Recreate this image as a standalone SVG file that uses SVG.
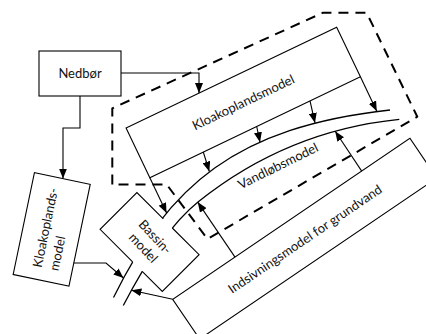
<svg xmlns="http://www.w3.org/2000/svg" width="426" height="334" viewBox="0 0 426 334">
  <style>
    .box { fill: #fff; stroke: #000; stroke-width: 1.1; }
    .ln { fill: none; stroke: #000; stroke-width: 1.1; }
    .arr { fill: none; stroke: #000; stroke-width: 1.1; marker-end: url(#ah); }
    .river { fill: none; stroke: #000; stroke-width: 1.3; }
    .dash { fill: none; stroke: #000; stroke-width: 2; stroke-dasharray: 10 7; stroke-linejoin: round; }
    text { font-family: Lato, "Liberation Sans", sans-serif; font-size: 13px; fill: #111; }
    .mid { text-anchor: middle; }
  </style>
  <defs>
    <marker id="ah" viewBox="0 0 10 8" refX="10" refY="4" markerWidth="10" markerHeight="8" markerUnits="userSpaceOnUse" orient="auto">
      <path d="M0,0 L10,4 L0,8 z" fill="#000"/>
    </marker>
  </defs>
  <rect width="426" height="334" fill="#fff"/>

  <!-- precipitation -->
  <g id="nedbor">
    <rect class="box" x="39" y="51" width="82" height="45"/>
    <text class="mid" x="80" y="77.5">Nedbør</text>
  </g>

  <!-- catchment model (large, rotated) -->
  <g id="kloakoplandsmodel">
    <rect class="box" x="-116.75" y="-27.5" width="233.5" height="55" transform="translate(243.25 102.4) rotate(-25.6)"/>
    <text class="mid" x="0" y="4.5" transform="translate(243.25 102.4) rotate(-25.6)">Kloakoplandsmodel</text>
  </g>

  <!-- catchment model (small, left) -->
  <g id="kloakoplandsmodel-left">
    <rect class="box" x="-28.5" y="-52" width="57" height="104" transform="translate(51.7 229.4) rotate(11.8)"/>
    <g transform="translate(51.7 229.4) rotate(-78.2)">
      <text x="-40" y="-2">Kloakoplands-</text>
      <text x="-40" y="15">model</text>
    </g>
  </g>

  <!-- infiltration model for groundwater -->
  <g id="indsivningsmodel">
    <g transform="translate(172.7 299.3) rotate(-34.16)">
      <rect class="box" x="0" y="0" width="286.7" height="48"/>
      <text class="mid" x="143.35" y="29">Indsivningsmodel for grundvand</text>
    </g>
  </g>

  <!-- river channel: two banks -->
  <g id="vandlobsmodel">
    <path class="river" d="M113.5,297.5 C168.75,185.4 235.9,127 390,110"/>
    <path class="river" d="M123.3,305.5 C149,255.8 174,221.2 198.3,201.7 C257.5,154.3 324.5,126.8 399.3,119.3"/>
    <text class="mid" x="0" y="0" transform="translate(280 170) rotate(-26.3)">Vandløbsmodel</text>
  </g>

  <!-- basin model, the channel passes through it -->
  <g id="bassin-model">
    <rect x="-44" y="-26" width="88" height="52" fill="#fff" transform="translate(149.6 242) rotate(45)"/>
    <path class="ln" d="M132.6,261.8 L100.1,229.3 L136.9,192.5 L163.3,218.9"/>
    <path class="ln" d="M172.3,228 L199.1,254.7 L162.3,291.5 L142.2,271.4"/>
    <g transform="translate(149.6 242) rotate(47)">
      <text class="mid" x="0" y="-3">Bassin-</text>
      <text class="mid" x="0" y="13">model</text>
    </g>
  </g>

  <!-- dashed system boundary -->
  <g id="boundary">
    <path class="dash" d="M112.3,184.5 L112.3,108.3 L323,12.7 L366.6,12.7 L417.3,116.7 L207.5,239 L166.7,184.5 Z"/>
  </g>

  <g id="connectors">
    <polyline class="arr" points="121,73 199,73 199,93.1"/>
    <polyline class="arr" points="80,96 80,128 63,128 63,178.6"/>
    <polyline class="arr" points="73.8,263 106,263 123.5,278"/>
    <line class="arr" x1="172.7" y1="299.3" x2="131.4" y2="290.2"/>
    <line class="arr" x1="149.85" y1="177.65" x2="166.6" y2="213"/>
    <line class="arr" x1="360.4" y1="76.75" x2="376.8" y2="111.2"/>
    <line class="arr" x1="203.3" y1="152" x2="209.3" y2="171.5"/>
    <line class="arr" x1="256.7" y1="126.5" x2="260" y2="142.2"/>
    <line class="arr" x1="310" y1="100.9" x2="315" y2="122.9"/>
    <line class="arr" x1="235" y1="257.1" x2="197.7" y2="202.1"/>
    <line class="arr" x1="361.7" y1="171.1" x2="335.2" y2="131.2"/>
  </g>
</svg>
